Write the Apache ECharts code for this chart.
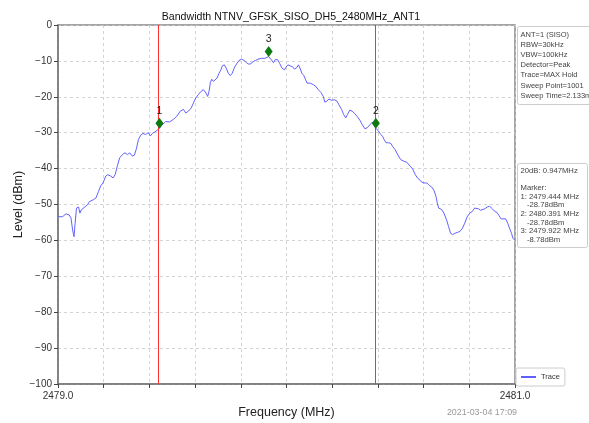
<!DOCTYPE html>
<html>
<head>
<meta charset="utf-8">
<script src="https://cdn.jsdelivr.net/npm/echarts@6/dist/echarts.min.js"></script>
<style>
  html, body { margin: 0; padding: 0; background: #fff; }
  #chart { width: 589px; height: 423px; }
</style>
</head>
<body>
<div id="chart"></div>
<script>
// Max-hold trace of the occupied-bandwidth sweep (frequency in MHz, level in dBm)
const traceFreq = [
  2479.000, 2479.006, 2479.020, 2479.035, 2479.049, 2479.057, 2479.064, 2479.070, 2479.075, 2479.081,
  2479.090, 2479.096, 2479.102, 2479.110, 2479.119, 2479.129, 2479.137, 2479.145, 2479.154, 2479.166,
  2479.177, 2479.187, 2479.197, 2479.209, 2479.218, 2479.231, 2479.241, 2479.250, 2479.260, 2479.270,
  2479.282, 2479.293, 2479.304, 2479.314, 2479.325, 2479.334, 2479.343, 2479.352, 2479.362, 2479.372,
  2479.383, 2479.395, 2479.404, 2479.413, 2479.424, 2479.434, 2479.444, 2479.453, 2479.471, 2479.488,
  2479.495, 2479.505, 2479.520, 2479.535, 2479.549, 2479.559, 2479.571, 2479.583, 2479.593, 2479.603,
  2479.614, 2479.626, 2479.636, 2479.647, 2479.655, 2479.661, 2479.667, 2479.673, 2479.680, 2479.687,
  2479.696, 2479.705, 2479.713, 2479.719, 2479.728, 2479.736, 2479.745, 2479.754, 2479.763, 2479.771,
  2479.782, 2479.792, 2479.803, 2479.815, 2479.825, 2479.835, 2479.844, 2479.854, 2479.864, 2479.876,
  2479.890, 2479.905, 2479.912, 2479.922, 2479.934, 2479.943, 2479.951, 2479.962, 2479.971, 2479.980,
  2479.987, 2479.991, 2479.997, 2480.006, 2480.016, 2480.026, 2480.035, 2480.041, 2480.046, 2480.052,
  2480.059, 2480.067, 2480.076, 2480.084, 2480.090, 2480.096, 2480.104, 2480.117, 2480.128, 2480.139,
  2480.151, 2480.161, 2480.168, 2480.177, 2480.186, 2480.198, 2480.209, 2480.221, 2480.229, 2480.241,
  2480.250, 2480.259, 2480.267, 2480.277, 2480.287, 2480.299, 2480.311, 2480.321, 2480.331, 2480.343,
  2480.354, 2480.366, 2480.375, 2480.383, 2480.391, 2480.401, 2480.412, 2480.422, 2480.427, 2480.436,
  2480.446, 2480.457, 2480.465, 2480.475, 2480.490, 2480.500, 2480.512, 2480.526, 2480.541, 2480.552,
  2480.563, 2480.573, 2480.584, 2480.592, 2480.602, 2480.614, 2480.625, 2480.635, 2480.645, 2480.654,
  2480.660, 2480.666, 2480.679, 2480.689, 2480.701, 2480.709, 2480.718, 2480.727, 2480.737, 2480.747,
  2480.759, 2480.770, 2480.780, 2480.790, 2480.802, 2480.814, 2480.823, 2480.831, 2480.840, 2480.849,
  2480.857, 2480.868, 2480.878, 2480.889, 2480.901, 2480.911, 2480.921, 2480.930, 2480.939, 2480.947,
  2480.959, 2480.968, 2480.976, 2480.985, 2480.991, 2481.000
];
const traceLevel = [
  -53.4, -53.2, -53.4, -52.6, -52.9, -53.8, -57.1, -59.0, -55.2, -51.0,
  -50.7, -52.4, -51.5, -51.0, -50.6, -50.1, -49.2, -49.6, -48.7, -48.2,
  -46.4, -44.8, -44.0, -42.1, -41.7, -42.1, -42.6, -41.7, -39.2, -37.0,
  -36.1, -35.6, -36.1, -35.6, -36.5, -36.3, -34.5, -31.9, -30.7, -30.2,
  -30.5, -30.0, -30.9, -30.2, -29.8, -29.3, -28.78, -28.0, -26.9, -27.0,
  -27.2, -26.3, -25.4, -24.0, -23.5, -24.5, -24.0, -23.1, -21.7, -20.3,
  -19.4, -18.5, -18.0, -18.9, -19.9, -18.5, -16.0, -15.1, -15.7, -16.0,
  -14.8, -13.4, -12.5, -11.4, -11.1, -12.0, -13.4, -14.1, -13.4, -12.0,
  -10.8, -9.9, -9.5, -9.9, -10.5, -10.9, -10.8, -10.2, -9.9, -9.5,
  -9.3, -9.3, -9.3, -8.78, -9.7, -10.5, -9.6, -9.7, -10.8, -12.0,
  -11.6, -12.5, -11.8, -11.1, -11.4, -11.6, -12.3, -12.5, -11.8, -11.1,
  -12.0, -13.4, -14.1, -15.3, -16.2, -15.7, -16.2, -16.6, -17.1, -18.0,
  -18.8, -19.9, -21.5, -21.2, -20.6, -21.0, -20.8, -21.2, -22.2, -23.5,
  -24.9, -25.9, -24.9, -23.7, -24.0, -24.7, -25.6, -26.5, -27.7, -28.9,
  -28.6, -27.7, -27.1, -27.6, -28.78, -29.4, -30.5, -31.1, -31.9, -32.8,
  -32.8, -33.0, -33.9, -34.7, -36.5, -37.5, -37.9, -38.2, -39.3, -40.1,
  -41.6, -42.6, -43.2, -43.8, -44.0, -44.0, -44.7, -45.1, -46.0, -47.7,
  -49.6, -51.0, -51.4, -52.4, -54.4, -56.1, -58.0, -58.4, -58.0, -57.8,
  -57.5, -56.6, -55.2, -53.5, -52.4, -51.9, -51.0, -51.4, -51.2, -51.6,
  -51.9, -51.2, -50.7, -50.5, -51.2, -51.9, -52.2, -53.1, -54.0, -54.3,
  -54.0, -55.2, -56.6, -58.1, -59.4, -60.0
];

// Markers: 1 and 2 are the -20 dB edges, 3 is the peak
const markerIds = ['1', '2', '3'];
const markerFreq = [2479.444, 2480.391, 2479.922];
const markerLevel = [-28.78, -28.78, -8.78];

// Axis ranges and end labels
const freqMin = 2479.0, freqMax = 2481.0, freqStep = 0.2;
const freqEndLabels = ['2479.0', '2481.0'];
const levelMin = -100, levelMax = 0, levelStep = 10;

// Text blocks
const titleText = 'Bandwidth NTNV_GFSK_SISO_DH5_2480MHz_ANT1';
const settingLines = ['ANT=1 (SISO)', 'RBW=30kHz', 'VBW=100kHz', 'Detector=Peak',
  'Trace=MAX Hold', 'Sweep Point=1001', 'Sweep Time=2.133ms'];
const bandwidthText = '20dB: 0.947MHz';
const timestampText = '2021-03-04 17:09';

const FONT = '"Liberation Sans", Arial, sans-serif';

const tracePairs = traceFreq.map((f, i) => [f, traceLevel[i]]);
const markerPairs = markerFreq.map((f, i) => ({ value: [f, markerLevel[i]], name: markerIds[i] }));

const markerLines = ['Marker:'];
markerIds.forEach((id, i) => {
  markerLines.push(id + ': ' + markerFreq[i].toFixed(3) + ' MHz');
  markerLines.push('   ' + markerLevel[i].toFixed(2) + 'dBm');
});

const chart = echarts.init(document.getElementById('chart'), null, { renderer: 'canvas' });

const gridLeft = 58, gridTop = 25, gridRight = 74, gridBottom = 39;

chart.setOption({
  animation: false,
  textStyle: { fontFamily: FONT },
  title: {
    text: titleText,
    left: 286, top: 7, textAlign: 'center',
    textStyle: { fontSize: 10.6, fontWeight: 'normal', color: '#111', fontFamily: FONT }
  },
  grid: {
    left: gridLeft, top: gridTop, right: gridRight, bottom: gridBottom,
    outerBoundsMode: 'none', containLabel: false,
    show: true, borderColor: '#888', borderWidth: 1.5, backgroundColor: '#fff'
  },
  legend: {
    data: ['Trace'],
    left: 516, top: 368,
    itemWidth: 15, itemHeight: 1.5, icon: 'rect', itemGap: 4,
    padding: [5, 5, 5, 5],
    borderColor: '#ccc', borderWidth: 1, borderRadius: 2,
    textStyle: { fontSize: 7.5, color: '#333', fontFamily: FONT }
  },
  xAxis: {
    type: 'value', min: freqMin, max: freqMax, interval: freqStep,
    name: 'Frequency (MHz)', nameLocation: 'middle', nameGap: 22, nameMoveOverlap: false,
    nameTextStyle: { fontSize: 12.5, color: '#222', fontFamily: FONT },
    axisLine: { onZero: false, lineStyle: { color: '#777', width: 1.5 } },
    axisTick: { show: true, inside: false, length: 4, lineStyle: { color: '#444' } },
    axisLabel: {
      fontSize: 10, color: '#333', margin: 7, showMinLabel: true, showMaxLabel: true,
      formatter: v => {
        if (Math.abs(v - freqMin) < 1e-6) return freqEndLabels[0];
        if (Math.abs(v - freqMax) < 1e-6) return freqEndLabels[1];
        return '';
      }
    },
    splitLine: { show: true, lineStyle: { color: '#c8c8c8', type: [3, 3], width: 0.8 } }
  },
  yAxis: {
    type: 'value', min: levelMin, max: levelMax, interval: levelStep,
    name: 'Level (dBm)', nameLocation: 'middle', nameGap: 33, nameRotate: 90, nameMoveOverlap: false,
    nameTextStyle: { fontSize: 12.5, color: '#222', fontFamily: FONT },
    axisLine: { show: true, lineStyle: { color: '#777', width: 1.5 } },
    axisTick: { show: true, inside: false, length: 4, lineStyle: { color: '#444' } },
    axisLabel: {
      fontSize: 10, color: '#333', margin: 6,
      formatter: v => (v < 0 ? '\u2212' + Math.abs(v) : String(v))
    },
    splitLine: { show: true, lineStyle: { color: '#c8c8c8', type: [3, 3], width: 0.8 } }
  },
  series: [
    {
      name: 'Trace', type: 'line', data: tracePairs,
      showSymbol: false, symbol: 'none',
      lineStyle: { color: '#6262ff', width: 1 },
      itemStyle: { color: '#2a2aff' },
      z: 3,
      markLine: {
        silent: true, symbol: 'none', label: { show: false },
        lineStyle: { color: '#ff3030', width: 1, type: 'solid', opacity: 1 },
        data: [{ xAxis: markerFreq[0] }, { xAxis: markerFreq[1] }]
      }
    },
    {
      name: 'Marker', type: 'scatter', data: markerPairs,
      symbol: 'diamond', symbolSize: [8, 11], symbolOffset: [0, -5],
      itemStyle: { color: '#0c7a0c', opacity: 1 },
      z: 5,
      label: {
        show: true, position: 'top', distance: 1,
        formatter: p => p.name,
        fontSize: 10.5, color: '#222', fontFamily: FONT
      }
    }
  ],
  graphic: [
    {
      type: 'group', left: 517, top: 26,
      children: [
        { type: 'rect', shape: { x: 0, y: 0, width: 90, height: 78, r: 2 },
          style: { fill: '#fff', stroke: '#ccc', lineWidth: 1 } },
        { type: 'text', x: 3, y: 3,
          style: { text: settingLines.join('\n'), fontSize: 7.5, lineHeight: 10.2, fill: '#444', fontFamily: FONT } }
      ]
    },
    {
      type: 'group', left: 517, top: 163,
      children: [
        { type: 'rect', shape: { x: 0, y: 0, width: 70, height: 84, r: 2 },
          style: { fill: '#fff', stroke: '#ccc', lineWidth: 1 } },
        { type: 'text', x: 3, y: 3,
          style: { text: bandwidthText + '\n\n' + markerLines.join('\n'), fontSize: 7.7, lineHeight: 8.6, fill: '#444', fontFamily: FONT } }
      ]
    },
    {
      type: 'text', right: 72, top: 408,
      style: { text: timestampText, fontSize: 8.9, fill: '#999', fontFamily: FONT }
    }
  ]
});
</script>
</body>
</html>
